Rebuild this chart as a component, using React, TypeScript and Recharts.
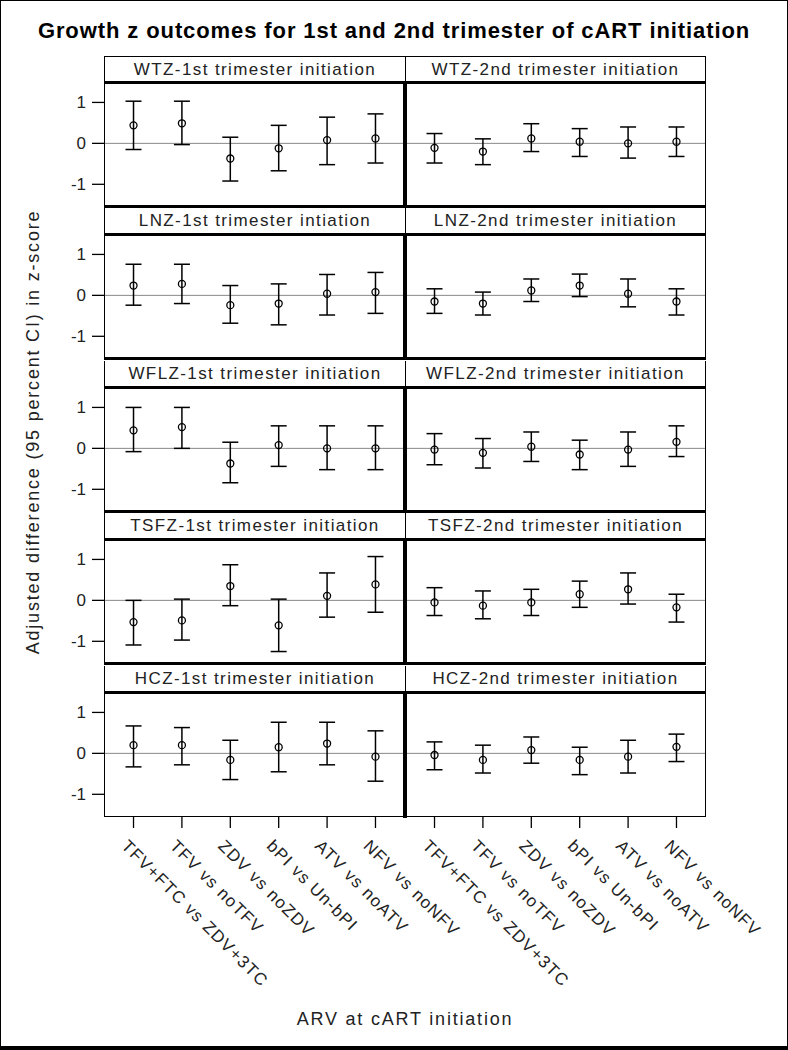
import React from 'react'
import { ScatterChart, Scatter, XAxis, YAxis, ErrorBar, ReferenceLine } from 'recharts'

const arvLabels = ['TFV+FTC vs ZDV+3TC', 'TFV vs noTFV', 'ZDV vs noZDV', 'bPI vs Un-bPI', 'ATV vs noATV', 'NFV vs noNFV']
const xTicks = [0, 1, 2, 3, 4, 5]
const yTicks = [-1, 0, 1]

const titles1st = ['WTZ-1st trimester initiation', 'LNZ-1st trimester intiation', 'WFLZ-1st trimester initiation', 'TSFZ-1st trimester initiation', 'HCZ-1st trimester initiation']
const titles2nd = ['WTZ-2nd trimester initiation', 'LNZ-2nd trimester initiation', 'WFLZ-2nd trimester initiation', 'TSFZ-2nd trimester initiation', 'HCZ-2nd trimester initiation']

// point estimate, lower and upper 95% CI
const wtz1Est = [0.44, 0.49, -0.37, -0.12, 0.08, 0.12]
const wtz1Lo = [-0.15, -0.03, -0.92, -0.67, -0.52, -0.48]
const wtz1Hi = [1.03, 1.03, 0.15, 0.44, 0.64, 0.72]
const wtz2Est = [-0.11, -0.2, 0.12, 0.04, 0, 0.04]
const wtz2Lo = [-0.48, -0.52, -0.2, -0.32, -0.36, -0.32]
const wtz2Hi = [0.24, 0.11, 0.48, 0.36, 0.4, 0.4]

const lnz1Est = [0.24, 0.28, -0.24, -0.2, 0.04, 0.08]
const lnz1Lo = [-0.24, -0.2, -0.68, -0.72, -0.48, -0.44]
const lnz1Hi = [0.76, 0.76, 0.24, 0.28, 0.51, 0.56]
const lnz2Est = [-0.15, -0.2, 0.12, 0.24, 0.04, -0.15]
const lnz2Lo = [-0.44, -0.48, -0.15, -0.03, -0.28, -0.48]
const lnz2Hi = [0.16, 0.08, 0.4, 0.52, 0.4, 0.16]

const wflz1Est = [0.44, 0.52, -0.37, 0.08, 0, 0]
const wflz1Lo = [-0.08, 0, -0.84, -0.44, -0.52, -0.52]
const wflz1Hi = [1.0, 1.0, 0.15, 0.55, 0.55, 0.55]
const wflz2Est = [-0.03, -0.11, 0.04, -0.15, -0.03, 0.16]
const wflz2Lo = [-0.4, -0.48, -0.32, -0.52, -0.44, -0.2]
const wflz2Hi = [0.36, 0.24, 0.4, 0.2, 0.4, 0.55]

const tsfz1Est = [-0.53, -0.49, 0.35, -0.61, 0.11, 0.39]
const tsfz1Lo = [-1.09, -0.97, -0.13, -1.25, -0.41, -0.29]
const tsfz1Hi = [0, 0.03, 0.87, 0.03, 0.67, 1.07]
const tsfz2Est = [-0.05, -0.13, -0.05, 0.15, 0.27, -0.17]
const tsfz2Lo = [-0.37, -0.45, -0.37, -0.17, -0.09, -0.53]
const tsfz2Hi = [0.31, 0.23, 0.27, 0.47, 0.67, 0.15]

const hcz1Est = [0.2, 0.2, -0.16, 0.15, 0.24, -0.08]
const hcz1Lo = [-0.33, -0.28, -0.64, -0.45, -0.28, -0.68]
const hcz1Hi = [0.67, 0.63, 0.32, 0.76, 0.76, 0.55]
const hcz2Est = [-0.04, -0.16, 0.08, -0.16, -0.08, 0.16]
const hcz2Lo = [-0.4, -0.48, -0.24, -0.52, -0.48, -0.2]
const hcz2Hi = [0.28, 0.2, 0.4, 0.15, 0.32, 0.47]

const rows = [
  [[wtz1Est, wtz1Lo, wtz1Hi], [wtz2Est, wtz2Lo, wtz2Hi]],
  [[lnz1Est, lnz1Lo, lnz1Hi], [lnz2Est, lnz2Lo, lnz2Hi]],
  [[wflz1Est, wflz1Lo, wflz1Hi], [wflz2Est, wflz2Lo, wflz2Hi]],
  [[tsfz1Est, tsfz1Lo, tsfz1Hi], [tsfz2Est, tsfz2Lo, tsfz2Hi]],
  [[hcz1Est, hcz1Lo, hcz1Hi], [hcz2Est, hcz2Lo, hcz2Hi]],
]

const FONT = '"Liberation Sans", Arial, sans-serif'
const ROW_TOPS = [56, 208, 361, 513, 666]
const HEADER_H = 28
const PLOT_H = 122
const LEFT_X = 104
const MID_X = 405
const RIGHT_X = 706
const Y_AXIS_W = 40
const X_AXIS_H = 190
const LABEL_ROOM = 80
const Y_DOMAIN: [number, number] = [-1.53, 1.45]
const X_DOMAIN: [number, number] = [-0.61, 5.61]

function toData(est: number[], lo: number[], hi: number[]) {
  return est.map((v, i) => ({ x: i, y: v, err: [v - lo[i], hi[i] - v] }))
}

function Marker(props: any) {
  return <circle cx={props.cx} cy={props.cy} r={3.5} fill="none" stroke="#000" strokeWidth={1.3} />
}

function ArvTick(props: any) {
  const { x, y, payload } = props
  const tx = x - 13
  const ty = y + 17
  return (
    <text x={tx} y={ty} transform={`rotate(45 ${tx} ${ty})`} textAnchor="start"
      fontSize={17} fontFamily={FONT} letterSpacing={1.2} fill="#222">
      {arvLabels[payload.value]}
    </text>
  )
}

function Panel({ est, lo, hi, left, last }: { est: number[]; lo: number[]; hi: number[]; left: boolean; last: boolean }) {
  const room = last ? LABEL_ROOM : 0
  const width = (left ? MID_X - LEFT_X + Y_AXIS_W : RIGHT_X - MID_X) + room
  const height = PLOT_H + (last ? X_AXIS_H : 0)
  return (
    <ScatterChart width={width} height={height} margin={{ top: 0, right: room, bottom: 0, left: 0 }}>
      <XAxis type="number" dataKey="x" domain={X_DOMAIN} ticks={xTicks} hide={!last} height={X_AXIS_H}
        axisLine={false} tickSize={12} tickLine={{ stroke: '#000', strokeWidth: 1.3 }} tick={<ArvTick />}
        interval={0} />
      <YAxis type="number" dataKey="y" domain={Y_DOMAIN} ticks={yTicks} hide={!left} width={Y_AXIS_W}
        axisLine={false} tickSize={12} tickMargin={6} tickLine={{ stroke: '#000', strokeWidth: 1.3 }}
        tick={{ fontSize: 17, fontFamily: FONT, fill: '#222' }} />
      <ReferenceLine y={0} stroke="#888" strokeWidth={1} />
      <Scatter data={toData(est, lo, hi)} shape={<Marker />} isAnimationActive={false}>
        <ErrorBar dataKey="err" direction="y" width={8} stroke="#000" strokeWidth={1.5} />
      </Scatter>
    </ScatterChart>
  )
}

const abs = (s: React.CSSProperties): React.CSSProperties => ({ position: 'absolute', boxSizing: 'border-box', ...s })

export default function App() {
  return (
    <div style={{ position: 'relative', width: 788, height: 1050, background: '#fff', fontFamily: FONT, overflow: 'hidden' }}>
      <style>{'body{margin:0}'}</style>
      <div style={abs({ left: 0, top: 0, width: 788, height: 1050, border: '1px solid #000', borderBottom: '4px solid #000' })} />
      <div style={abs({ left: 0, top: 18, width: 788, textAlign: 'center', fontSize: 22, letterSpacing: 0.9, fontWeight: 'bold' })}>
        Growth z outcomes for 1st and 2nd trimester of cART initiation
      </div>

      {rows.map((row, r) => {
        const top = ROW_TOPS[r]
        const plotTop = top + HEADER_H
        const last = r === rows.length - 1
        return (
          <React.Fragment key={r}>
            <div style={abs({ left: LEFT_X - Y_AXIS_W, top: plotTop })}>
              <Panel est={row[0][0]} lo={row[0][1]} hi={row[0][2]} left last={last} />
            </div>
            <div style={abs({ left: MID_X, top: plotTop })}>
              <Panel est={row[1][0]} lo={row[1][1]} hi={row[1][2]} left={false} last={last} />
            </div>
            {[titles1st[r], titles2nd[r]].map((t, c) => (
              <div key={c} style={abs({
                left: c === 0 ? LEFT_X : MID_X, top, width: c === 0 ? MID_X - LEFT_X : RIGHT_X - MID_X, height: HEADER_H,
                borderTop: r === 0 ? '1.5px solid #000' : 'none', borderLeft: '1.5px solid #000', borderRight: c === 1 ? '1.5px solid #000' : 'none',
                borderBottom: '3px solid #000', textAlign: 'center', fontSize: 17, letterSpacing: 1.4, lineHeight: '26px', color: '#222',
              })}>{t}</div>
            ))}
            <div style={abs({
              left: LEFT_X, top: plotTop, width: RIGHT_X - LEFT_X, height: PLOT_H + (last ? 1 : 2),
              borderLeft: '1.5px solid #000', borderRight: '1.5px solid #000', borderBottom: last ? '1.5px solid #000' : '3px solid #000',
              pointerEvents: 'none',
            })} />
            <div style={abs({ left: MID_X - 2, top: plotTop, width: 3.5, height: PLOT_H + 2, background: '#000' })} />
          </React.Fragment>
        )
      })}

      <div style={abs({ left: 33, top: 432, width: 0, height: 0 })}>
        <div style={{ position: 'absolute', left: 0, top: 0, transform: 'translate(-50%, -50%) rotate(-90deg)', whiteSpace: 'nowrap', fontSize: 18, letterSpacing: 1.8, color: '#222' }}>
          Adjusted difference (95 percent CI) in z-score
        </div>
      </div>
      <div style={abs({ left: 104, top: 1009, width: 602, textAlign: 'center', fontSize: 18, letterSpacing: 1.8, color: '#222' })}>
        ARV at cART initiation
      </div>
    </div>
  )
}
